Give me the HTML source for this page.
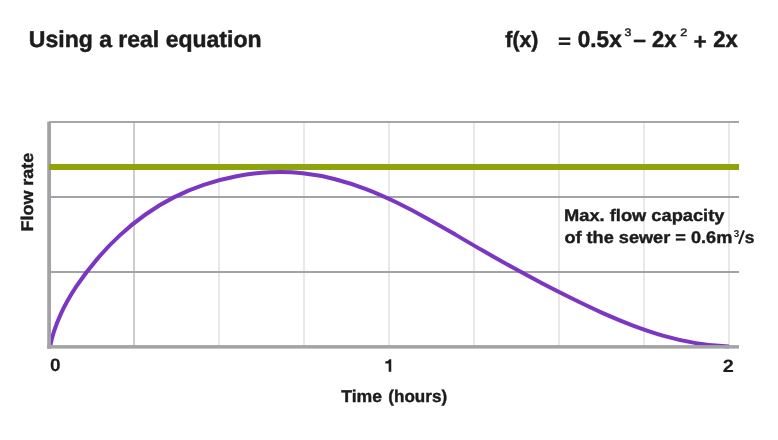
<!DOCTYPE html>
<html><head><meta charset="utf-8"><title>Using a real equation</title>
<style>
html,body{margin:0;padding:0;background:#fff;}
body{width:778px;height:440px;position:relative;overflow:hidden;font-family:"Liberation Sans",sans-serif;}
svg{position:absolute;left:0;top:0;will-change:transform;}
text{font-family:"Liberation Sans",sans-serif;text-rendering:geometricPrecision;white-space:pre;stroke-linejoin:round;}
</style></head><body>
<svg width="778" height="440" viewBox="0 0 778 440">
<rect x="133" y="122" width="2" height="225" fill="#cdcdd0"/><rect x="218" y="122" width="2" height="225" fill="#e8e8ea"/><rect x="303" y="122" width="2" height="225" fill="#e8e8ea"/><rect x="388" y="122" width="2" height="225" fill="#e8e8ea"/><rect x="473" y="122" width="2" height="225" fill="#e8e8ea"/><rect x="558" y="122" width="2" height="225" fill="#e8e8ea"/><rect x="643" y="122" width="2" height="225" fill="#e8e8ea"/><rect x="728" y="122" width="2" height="225" fill="#e8e8ea"/>
<rect x="49" y="121" width="690" height="2" fill="#a6a6a9"/>
<rect x="49" y="196" width="690" height="2" fill="#a3a3a7"/>
<rect x="49" y="271" width="690" height="2" fill="#a3a3a7"/>
<path d="M50.0 346.5 C52.2 335.6 55.8 325.1 60.3 315.1 C64.8 305.0 70.4 295.4 76.5 286.2 C82.7 277.0 89.5 268.1 96.7 259.6 C103.9 251.1 111.6 243.0 119.8 235.4 C127.9 227.9 136.5 220.8 145.5 214.5 C154.6 208.1 164.0 202.3 173.8 197.4 C183.7 192.4 193.9 188.2 204.4 184.7 C214.9 181.2 225.7 178.4 236.6 176.3 C247.5 174.2 258.5 172.8 269.6 172.3 C280.7 171.7 291.7 172.0 302.7 173.2 C313.7 174.3 324.5 176.4 335.2 179.2 C345.9 181.9 356.4 185.4 366.7 189.4 C377.1 193.4 387.2 198.0 397.2 202.8 C407.1 207.6 416.9 212.8 426.6 218.2 C436.2 223.5 445.8 229.0 455.4 234.6 C464.9 240.2 474.4 245.8 484.0 251.3 C493.6 256.8 503.2 262.2 512.9 267.6 C522.5 272.9 532.2 278.1 542.0 283.3 C551.8 288.4 561.6 293.4 571.6 298.3 C581.5 303.2 591.5 308.0 601.7 312.6 C611.8 317.1 622.0 321.4 632.3 325.3 C642.7 329.2 653.1 332.8 663.7 335.8 C674.3 338.8 685.0 341.3 695.9 343.1 C706.8 345.0 717.8 346.1 729.0 346.5" fill="none" stroke="#7b36c2" stroke-width="4" stroke-linecap="butt" stroke-linejoin="round"/>
<rect x="47.2" y="121.6" width="3.8" height="227" fill="#a3a3a6"/>
<rect x="47.2" y="345.1" width="691.8" height="3.5" fill="#a3a3a6"/>
<rect x="49" y="164" width="690" height="6" fill="#8fa30b"/>
<line x1="738.95" y1="243.8" x2="743.95" y2="230.4" stroke="#1c1c1c" stroke-width="2"/>
<path d="M391.25 359.2 L391.25 371.8 L388.7 371.8 L388.7 363.6 L385.3 363.6 L385.3 361.6 Q388.2 361.4 389.4 359.2 Z" fill="#1c1c1c"/>
<rect x="558.8" y="37.45" width="11.5" height="2.5" fill="#1c1c1c"/><rect x="558.8" y="42.45" width="11.5" height="2.5" fill="#1c1c1c"/>
<text transform="translate(28.87,46.60) scale(1.0000,1)" font-size="23" font-weight="bold" fill="#1c1c1c" stroke="#1c1c1c" stroke-width="0.5">Using a real equation</text>
<text transform="translate(505.37,46.80) scale(0.9576,1)" font-size="22.2" font-weight="bold" fill="#1c1c1c" stroke="#1c1c1c" stroke-width="0.5">f(x)</text>
<text transform="translate(577.85,46.80) scale(0.9784,1)" font-size="23" font-weight="bold" fill="#1c1c1c" stroke="#1c1c1c" stroke-width="0.5">0.5x</text>
<text transform="translate(624.58,35.60) scale(1.1104,0.9852)" font-size="11" font-weight="normal" fill="#222" stroke="#222" stroke-width="0.45">3</text>
<text transform="translate(633.36,46.61) scale(1.0447,1.0266)" font-size="22" font-weight="bold" fill="#1c1c1c" stroke="#1c1c1c" stroke-width="0.3">–</text>
<text transform="translate(652.07,46.80) scale(0.9533,1)" font-size="23" font-weight="bold" fill="#1c1c1c" stroke="#1c1c1c" stroke-width="0.5">2x</text>
<text transform="translate(680.31,35.65) scale(1.1493,0.9918)" font-size="11" font-weight="normal" fill="#222" stroke="#222" stroke-width="0.45">2</text>
<text transform="translate(693.60,48.79) scale(1.0324,1.0177)" font-size="22" font-weight="bold" fill="#1c1c1c" stroke="#1c1c1c" stroke-width="0.3">+</text>
<text transform="translate(713.37,46.80) scale(0.9533,1)" font-size="23" font-weight="bold" fill="#1c1c1c" stroke="#1c1c1c" stroke-width="0.5">2x</text>
<text transform="translate(564.09,221.35) scale(1.0881,1)" font-size="16.8" font-weight="bold" fill="#1c1c1c" stroke="#1c1c1c" stroke-width="0.4">Max. flow capacity</text>
<text transform="translate(564.40,243.40) scale(1.0812,1)" font-size="16.8" font-weight="bold" fill="#1c1c1c" stroke="#1c1c1c" stroke-width="0.4">of the sewer = 0.6m</text>
<text transform="translate(733.76,237.28) scale(1.1003,1.1084)" font-size="9" font-weight="bold" fill="#222" stroke="#222" stroke-width="0">3</text>
<text transform="translate(744.76,243.40) scale(1.0339,1)" font-size="16.8" font-weight="bold" fill="#1c1c1c" stroke="#1c1c1c" stroke-width="0.4">s</text>
<text transform="translate(50.12,371.49) scale(1.1224,1.0561)" font-size="17" font-weight="bold" fill="#1c1c1c" stroke="#1c1c1c" stroke-width="0.1">0</text>
<text transform="translate(722.66,371.83) scale(1.1696,1.0504)" font-size="17" font-weight="bold" fill="#1c1c1c" stroke="#1c1c1c" stroke-width="0.1">2</text>
<text transform="translate(341.20,401.65) scale(1.0359,1)" font-size="17" font-weight="bold" fill="#1c1c1c" stroke="#1c1c1c" stroke-width="0.4">Time</text>
<text transform="translate(388.35,401.65) scale(1.0030,1)" font-size="17" font-weight="bold" fill="#1c1c1c" stroke="#1c1c1c" stroke-width="0.4">(hours)</text>
<text transform="translate(32.80,231.39) rotate(-90) scale(1.0530,1)" font-size="17" font-weight="bold" fill="#1c1c1c" stroke="#1c1c1c" stroke-width="0.4">Flow rate</text>
</svg>
</body></html>
